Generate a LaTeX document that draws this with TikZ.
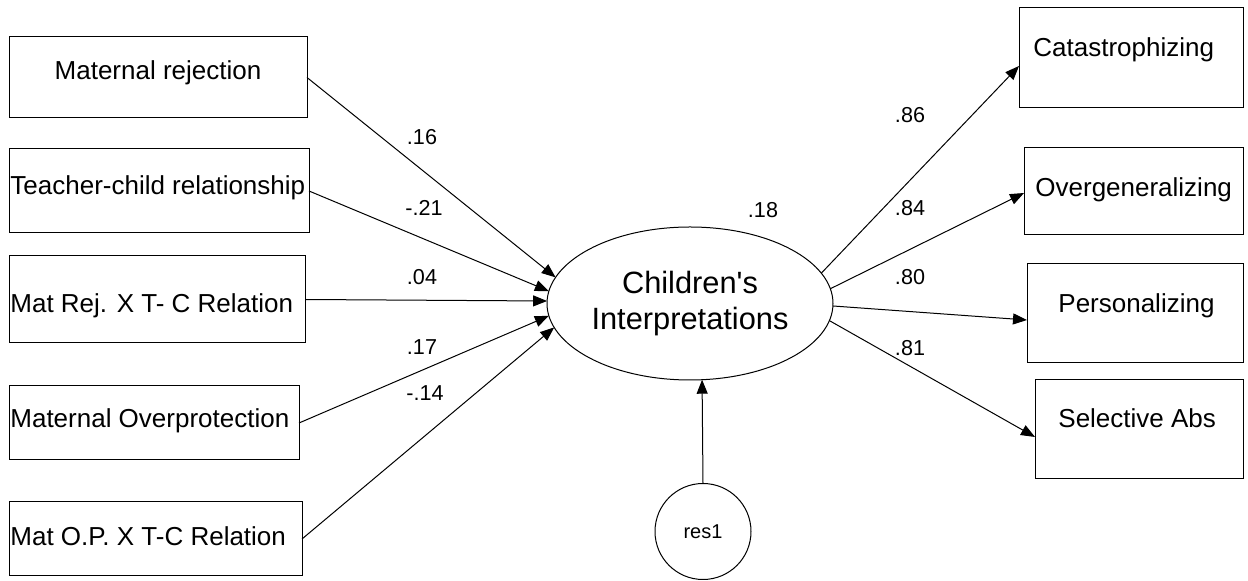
\documentclass[tikz,border=0pt]{standalone}
\usepackage{fontspec}
\setmainfont{Liberation Sans}
\usetikzlibrary{arrows.meta,shapes.geometric}
\begin{document}
\begin{tikzpicture}[x=0.5pt,y=-0.5pt,
  box/.style={draw,line width=0.5pt,inner sep=0pt,outer sep=0pt},
  btext/.style={font=\fontsize{13}{15}\selectfont,inner sep=0pt,text height=9.3pt,text depth=0pt},
  coef/.style={font=\fontsize{10.8}{13}\selectfont,inner sep=0pt,text height=7.7pt,text depth=0pt},
  conn/.style={line width=0.5pt,-{Triangle[length=7pt,width=5.5pt]}}
]
\useasboundingbox (0,0) rectangle (1248,581);

% left boxes
\node[box,minimum width=149pt,minimum height=40.5pt] (b1) at (158,77.5) {};
\node[box,minimum width=150pt,minimum height=42pt] (b2) at (159,191) {};
\node[box,minimum width=148pt,minimum height=43.5pt] (b3) at (157,299.5) {};
\node[box,minimum width=145pt,minimum height=37pt] (b4) at (154,423) {};
\node[box,minimum width=146.5pt,minimum height=37pt] (b5) at (155.5,539) {};

\node[btext] (t1) at (158,70) {Maternal rejection};
\node[btext,anchor=west] (t2) at (10,185) {Teacher-child relationship};
\node[btext,anchor=west] (t3) at (10,303) {Mat Rej. X T- C Relation};
\node[btext,anchor=west] (t4) at (10,418) {Maternal Overprotection};
\node[btext,anchor=west] (t5) at (10,536) {Mat O.P. X T-C Relation};

% right boxes
\node[box,minimum width=112pt,minimum height=50pt] (c1) at (1131,58) {};
\node[box,minimum width=109.5pt,minimum height=43.5pt] (c2) at (1133.5,191.5) {};
\node[box,minimum width=108pt,minimum height=49.5pt] (c3) at (1135,313.5) {};
\node[box,minimum width=104pt,minimum height=49.5pt] (c4) at (1139,429.5) {};

\node[btext,anchor=west] (u1) at (1033,47) {Catastrophizing};
\node[btext,anchor=west] (u2) at (1035,187) {Overgeneralizing};
\node[btext,anchor=west] (u3) at (1058,303) {Personalizing};
\node[btext,anchor=west] (u4) at (1058,418) {Selective Abs};

% latent variable
\node[draw,ellipse,line width=0.5pt,minimum width=143pt,minimum height=76.5pt,
      inner sep=0pt,outer sep=0pt,align=center,
      font=\fontsize{15.4}{18}\selectfont] (ci) at (690,303.5)
      {Children\textquotesingle s\\Interpretations};

% residual
\node[draw,circle,line width=0.5pt,minimum size=48pt,inner sep=0pt,outer sep=0pt,
      font=\fontsize{10}{12}\selectfont] (res) at (703,531.5) {res1};

% connectors
\draw[conn] (b1.east) -- (ci.169.5);
\draw[conn] (b2.east) -- (ci.175);
\draw[conn] (b3.east) -- (ci.179.5);
\draw[conn] (b4.east) -- (ci.185);
\draw[conn] (b5.east) -- (ci.190.5);

\draw[conn] (ci.13) -- ([yshift=-4pt]c1.west);
\draw[conn] (ci.6.2) -- ([yshift=-0.75pt]c2.west);
\draw[conn] (ci.359) -- ([yshift=-3.25pt]c3.west);
\draw[conn] (ci.353) -- ([yshift=-3.75pt]c4.west);

\draw[conn] (res.north) -- (ci.279.7);

% coefficients
\node[coef] (k1) at (422,137) {.16};
\node[coef] (k2) at (424,208) {-.21};
\node[coef] (k3) at (422,277) {.04};
\node[coef] (k4) at (422,347) {.17};
\node[coef] (k5) at (425,393) {-.14};
\node[coef] (r2) at (763,210) {.18};
\node[coef] (l1) at (910,115) {.86};
\node[coef] (l2) at (910,208) {.84};
\node[coef] (l3) at (910,277) {.80};
\node[coef] (l4) at (910,348) {.81};
\end{tikzpicture}
\end{document}
